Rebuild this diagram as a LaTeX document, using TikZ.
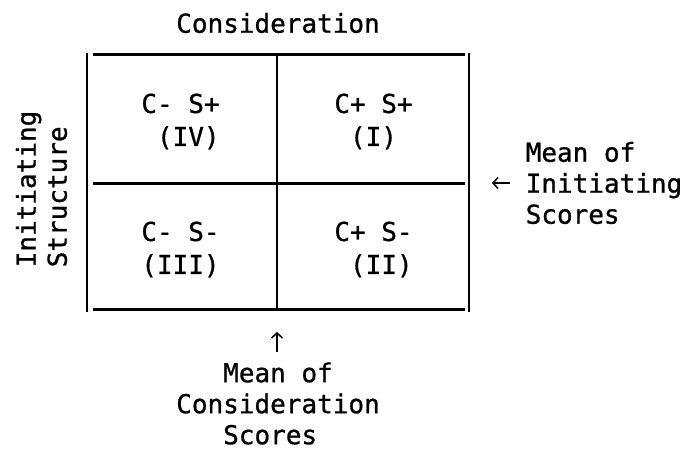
\documentclass[tikz,border=0pt]{standalone}
\usepackage{fontspec}
\newfontfamily\typewr[FakeBold=0.9]{DejaVu Sans Mono}
\usetikzlibrary{arrows.meta}
\begin{document}
\begin{tikzpicture}[x=1pt,y=-1pt,>={Straight Barb[length=5pt,width=11pt]},
        font=\typewr\fontsize{26}{31}\selectfont,
        cell/.style={inner sep=0pt,align=left,font=\typewr\fontsize{26}{33}\selectfont},
        axistext/.style={inner sep=0pt,align=left},
        rule/.style={line width=3pt},
        side/.style={line width=2pt}]
        \useasboundingbox (0,0) rectangle (689,449);
        % grid
        \draw[rule] (93,55) -- (465,55);
        \draw[rule] (93,184) -- (465,184);
        \draw[rule] (93,310) -- (465,310);
        \draw[side] (87,53) -- (87,312);
        \draw[side] (469,53) -- (469,312);
        \draw[side] (277,55) -- (277,310);
        % quadrants
        \node[cell] (q4) at (180.5,121.5) {C- S+\\\ (IV)};
        \node[cell] (q1) at (373.5,121.5) {C+ S+\\\ (I)};
        \node[cell] (q3) at (180.5,249.5) {C- S-\\(III)};
        \node[cell] (q2) at (373.5,249.5) {C+ S-\\\ (II)};
        % axes
        \node[inner sep=0pt] (consid) at (278,23) {Consideration};
        \node[axistext,rotate=90] (instr) at (41.5,189) {Initiating\\Structure};
        \node[axistext] (meanI) at (604,183) {Mean of\\Initiating\\Scores};
        \node[axistext] (meanC) at (278,403.5) {\ \ \ Mean of\\Consideration\\\ \ \ Scores};
        \coordinate (arrItail) at (510,183);
        \coordinate (arrIhead) at (492,183);
        \coordinate (arrCtail) at (277,352);
        \coordinate (arrChead) at (277,332);
        \draw[->,line width=1.5pt] (arrItail) -- (arrIhead);
        \draw[->,line width=1.5pt] (arrCtail) -- (arrChead);
\end{tikzpicture}
\end{document}
